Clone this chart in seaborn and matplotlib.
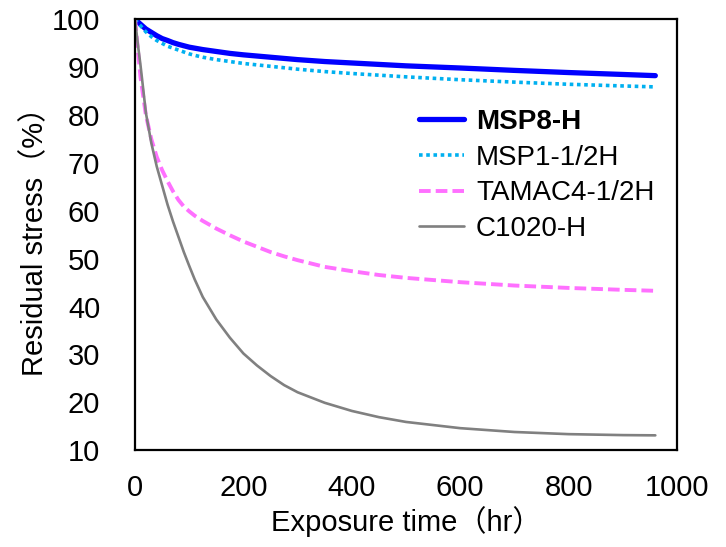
import pandas as pd
import matplotlib
matplotlib.use("Agg")
import matplotlib.pyplot as plt
import seaborn as sns

# data
time_hr = [0, 5, 10, 20, 30, 40, 50, 60, 70, 80, 90, 100, 110, 125, 150, 175, 200, 225, 250, 275, 300, 350, 400, 450, 500, 600, 700, 800, 900, 960]
msp8_h = [100, 99.5, 99.0, 98.0, 97.3, 96.6, 96.0, 95.6, 95.15, 94.8, 94.5, 94.2, 94.0, 93.7, 93.3, 92.9, 92.6, 92.35, 92.1, 91.85, 91.6, 91.2, 90.9, 90.6, 90.3, 89.85, 89.35, 88.9, 88.5, 88.25]
msp1_half_h = [100, 99.3, 98.7, 97.4, 96.4, 95.6, 95.0, 94.4, 94.0, 93.6, 93.2, 92.8, 92.5, 92.1, 91.6, 91.2, 90.8, 90.5, 90.2, 89.9, 89.6, 89.1, 88.7, 88.35, 88.0, 87.4, 86.9, 86.45, 86.1, 85.9]
tamac4_half_h = [100, 94.0, 88.0, 80.0, 75.0, 71.3, 68.5, 66.2, 64.1, 62.3, 60.9, 59.9, 59.0, 57.9, 56.3, 54.9, 53.6, 52.5, 51.4, 50.5, 49.7, 48.3, 47.4, 46.6, 46.0, 45.1, 44.4, 43.9, 43.5, 43.3]
c1020_h = [100, 95.0, 90.5, 80.5, 74.2, 69.3, 65.3, 61.3, 57.8, 54.6, 51.4, 48.5, 45.7, 42.0, 37.3, 33.5, 30.2, 27.7, 25.5, 23.6, 22.1, 19.9, 18.2, 16.9, 15.9, 14.6, 13.8, 13.35, 13.15, 13.1]

labels = ["MSP8-H", "MSP1-1/2H", "TAMAC4-1/2H", "C1020-H"]
colors = ["#0000FF", "#00B0F0", "#FF70FF", "#808080"]
widths = [3.8, 2.6, 2.8, 1.9]
dashes = [None, (1, 1), (3, 1.3), None]

sns.set_style("white")
plt.rcParams["font.family"] = ["Liberation Sans", "Noto Sans CJK JP", "DejaVu Sans"]
plt.rcParams["text.color"] = "black"
plt.rcParams["axes.labelcolor"] = "black"

fig = plt.figure(figsize=(7.26, 5.47), dpi=100)
ax = fig.add_axes([0.186, 0.177, 0.7465, 0.7875])

series = [msp8_h, msp1_half_h, tamac4_half_h, c1020_h]
for vals, lab, col, lw, ds in zip(series, labels, colors, widths, dashes):
    df = pd.DataFrame({"time": time_hr, "stress": vals})
    line_kw = dict(color=col, linewidth=lw, label=lab)
    if ds is not None:
        line_kw["dashes"] = ds
    sns.lineplot(data=df, x="time", y="stress", ax=ax, **line_kw)
    ax.lines[-1].set_dash_capstyle("butt")
    ax.lines[-1].set_solid_joinstyle("round")

ax.set_xlim(0, 1000)
ax.set_ylim(10, 100)
ax.set_xticks(range(0, 1001, 200))
ax.set_yticks(range(10, 101, 10))
ax.tick_params(direction="in", length=6.5, width=1.5, labelsize=21, colors="black")
ax.tick_params(axis="x", pad=17)
ax.tick_params(axis="y", pad=25)
for sp in ax.spines.values():
    sp.set_visible(True)
    sp.set_color("black")
    sp.set_linewidth(1.6)

ax.set_xlabel("Exposure time（hr）", fontsize=21, labelpad=3)
ax.set_ylabel("Residual stress（%）", fontsize=21, labelpad=2)

leg = ax.legend(loc="upper left", bbox_to_anchor=(0.478, 0.85), frameon=False,
                fontsize=20, handlelength=1.6, handletextpad=0.45, labelspacing=0.35)
leg.get_texts()[0].set_fontweight("bold")

fig.savefig("out.png", dpi=100)
